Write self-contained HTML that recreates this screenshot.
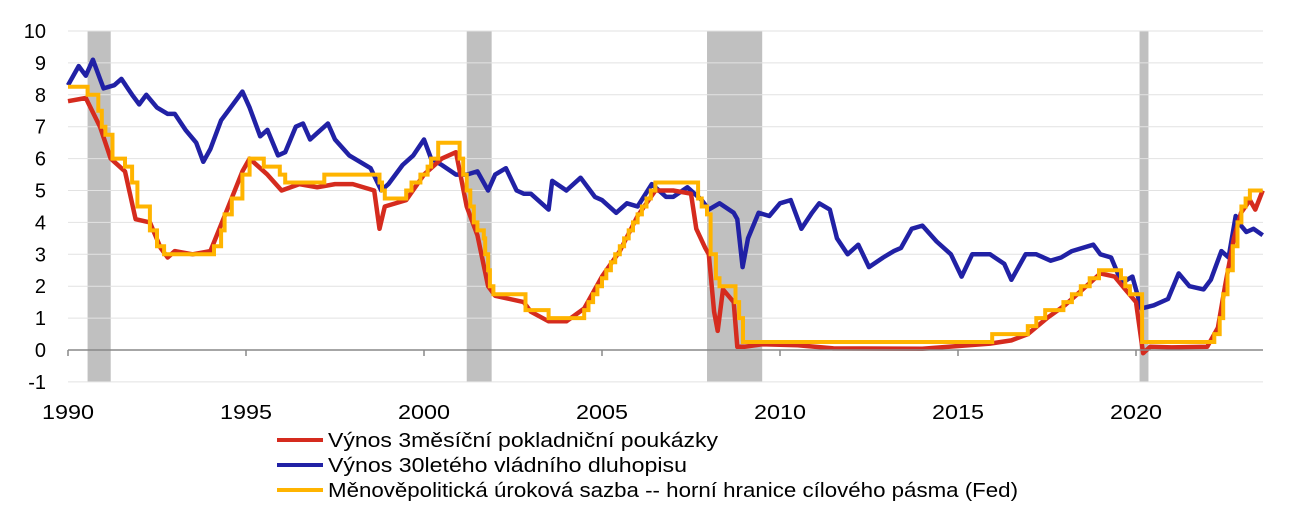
<!DOCTYPE html>
<html><head><meta charset="utf-8">
<style>
body{margin:0;background:#fff;width:1299px;height:513px;overflow:hidden;font-family:"Liberation Sans",sans-serif;}
svg text{font-family:"Liberation Sans",sans-serif;}
</style></head>
<body>
<svg id="chart" width="1299" height="513" xmlns="http://www.w3.org/2000/svg">
<g id="bands"></g>
<g id="grid"></g>
<g id="series"></g>
<g id="axes"></g>
<g id="legend">
<g><line x1="277" y1="440" x2="323" y2="440" stroke="#d52b1e" stroke-width="4"/><text x="328" y="447" font-size="20" textLength="390" lengthAdjust="spacingAndGlyphs" fill="#000">Výnos 3měsíční pokladniční poukázky</text></g>
<g><line x1="277" y1="465" x2="323" y2="465" stroke="#2121a5" stroke-width="4"/><text x="328" y="472" font-size="20" textLength="359" lengthAdjust="spacingAndGlyphs" fill="#000">Výnos 30letého vládního dluhopisu</text></g>
<g><line x1="277" y1="490" x2="323" y2="490" stroke="#ffb400" stroke-width="4"/><text x="328" y="497" font-size="20" textLength="690" lengthAdjust="spacingAndGlyphs" fill="#000">Měnověpolitická úroková sazba -- horní hranice cílového pásma (Fed)</text></g>
</g>
</svg>
<script>
const yTicks=[10,9,8,7,6,5,4,3,2,1,0,-1];
const xTicks=[1990,1995,2000,2005,2010,2015,2020];
const recessions=[[1990.55,1991.2],[2001.2,2001.9],[2007.95,2009.5],[2020.1,2020.35]];
const fedT=[1990.0,1990.55,1990.85,1990.95,1991.05,1991.25,1991.6,1991.8,1991.95,1992.3,1992.5,1992.7,1994.1,1994.3,1994.4,1994.6,1994.9,1995.1,1995.5,1995.95,1996.1,1997.2,1998.75,1998.82,1998.9,1999.5,1999.65,1999.9,2000.1,2000.2,2000.4,2001.0,2001.1,2001.2,2001.3,2001.4,2001.5,2001.68,2001.72,2001.8,2001.85,2001.95,2002.85,2003.5,2004.5,2004.62,2004.75,2004.87,2005.0,2005.12,2005.25,2005.37,2005.5,2005.62,2005.75,2005.87,2006.0,2006.12,2006.25,2006.37,2006.5,2007.7,2007.8,2007.95,2008.05,2008.2,2008.3,2008.75,2008.85,2008.96,2015.96,2016.96,2017.2,2017.45,2017.96,2018.2,2018.45,2018.7,2018.96,2019.58,2019.7,2019.83,2020.17,2022.2,2022.35,2022.45,2022.57,2022.72,2022.85,2022.96,2023.08,2023.2,2023.56];
const fedV=[8.25,8.0,7.5,7.0,6.75,6.0,5.75,5.25,4.5,3.75,3.25,3.0,3.25,3.75,4.25,4.75,5.5,6.0,5.75,5.5,5.25,5.5,5.25,5.0,4.75,5.0,5.25,5.5,5.75,6.0,6.5,6.0,5.5,5.0,4.5,4.0,3.75,3.5,3.0,2.5,2.0,1.75,1.25,1.0,1.25,1.5,1.75,2.0,2.25,2.5,2.75,3.0,3.25,3.5,3.75,4.0,4.25,4.5,4.75,5.0,5.25,4.75,4.5,4.25,3.0,2.25,2.0,1.5,1.0,0.25,0.5,0.75,1.0,1.25,1.5,1.75,2.0,2.25,2.5,2.25,2.0,1.75,0.25,0.5,1.0,1.75,2.5,3.25,4.0,4.5,4.75,5.0,5.0];
const billT=[1990.0,1990.5,1990.9,1991.2,1991.6,1991.9,1992.3,1992.6,1992.8,1993.0,1993.5,1994.0,1994.4,1994.9,1995.1,1995.6,1996.0,1996.5,1997.0,1997.5,1998.0,1998.6,1998.75,1998.9,1999.5,2000.0,2000.5,2000.9,2001.2,2001.5,2001.8,2002.0,2002.8,2003.0,2003.5,2004.0,2004.5,2005.0,2005.5,2006.0,2006.5,2007.0,2007.5,2007.65,2007.9,2008.0,2008.15,2008.25,2008.4,2008.7,2008.8,2009.0,2009.5,2010.5,2011.5,2014.0,2015.9,2016.5,2016.96,2017.5,2018.0,2018.5,2019.0,2019.4,2019.7,2020.0,2020.2,2020.4,2021.0,2022.0,2022.3,2022.5,2022.75,2022.95,2023.2,2023.35,2023.56];
const billV=[7.8,7.9,7.0,6.0,5.6,4.1,4.0,3.2,2.9,3.1,3.0,3.1,4.2,5.6,6.0,5.5,5.0,5.2,5.1,5.2,5.2,5.0,3.8,4.5,4.7,5.5,6.0,6.2,4.5,3.6,2.0,1.7,1.5,1.2,0.9,0.9,1.3,2.3,3.1,4.2,5.0,5.0,4.9,3.8,3.2,3.0,1.2,0.6,1.9,1.5,0.1,0.1,0.18,0.15,0.05,0.04,0.2,0.3,0.5,1.0,1.4,1.9,2.4,2.3,1.9,1.5,-0.1,0.1,0.08,0.1,0.7,2.0,3.5,4.3,4.7,4.4,5.0];
const bondT=[1990.0,1990.3,1990.5,1990.7,1990.9,1991.0,1991.3,1991.5,1991.8,1992.0,1992.2,1992.5,1992.8,1993.0,1993.3,1993.6,1993.8,1994.0,1994.3,1994.5,1994.9,1995.1,1995.4,1995.6,1995.9,1996.1,1996.4,1996.6,1996.8,1997.0,1997.3,1997.5,1997.9,1998.2,1998.5,1998.8,1999.0,1999.4,1999.7,2000.0,2000.2,2000.5,2000.9,2001.2,2001.5,2001.8,2002.0,2002.3,2002.6,2002.8,2003.0,2003.5,2003.6,2004.0,2004.4,2004.8,2005.0,2005.4,2005.7,2006.0,2006.4,2006.8,2007.0,2007.4,2007.8,2008.0,2008.3,2008.7,2008.8,2008.95,2009.1,2009.4,2009.7,2010.0,2010.3,2010.6,2010.9,2011.1,2011.4,2011.6,2011.9,2012.2,2012.5,2012.9,2013.2,2013.4,2013.7,2014.0,2014.4,2014.8,2015.1,2015.4,2015.9,2016.3,2016.5,2016.9,2017.2,2017.6,2017.9,2018.2,2018.8,2019.0,2019.3,2019.6,2019.9,2020.15,2020.5,2020.9,2021.2,2021.5,2021.9,2022.1,2022.4,2022.6,2022.8,2022.95,2023.1,2023.3,2023.56];
const bondV=[8.3,8.9,8.6,9.1,8.5,8.2,8.3,8.5,8.0,7.7,8.0,7.6,7.4,7.4,6.9,6.5,5.9,6.3,7.2,7.5,8.1,7.6,6.7,6.9,6.1,6.2,7.0,7.1,6.6,6.8,7.1,6.6,6.1,5.9,5.7,5.0,5.2,5.8,6.1,6.6,6.0,5.8,5.5,5.5,5.6,5.0,5.5,5.7,5.0,4.9,4.9,4.4,5.3,5.0,5.4,4.8,4.7,4.3,4.6,4.5,5.2,4.8,4.8,5.1,4.7,4.4,4.6,4.3,4.1,2.6,3.5,4.3,4.2,4.6,4.7,3.8,4.3,4.6,4.4,3.5,3.0,3.3,2.6,2.9,3.1,3.2,3.8,3.9,3.4,3.0,2.3,3.0,3.0,2.7,2.2,3.0,3.0,2.8,2.9,3.1,3.3,3.0,2.9,2.1,2.3,1.3,1.4,1.6,2.4,2.0,1.9,2.2,3.1,2.9,4.2,3.9,3.7,3.8,3.6];

const NS='http://www.w3.org/2000/svg';
const X0=68,YR0=1990,PXY=35.6,Y0=350,PXU=31.9,XR=1263;
function xs(t){return X0+(t-YR0)*PXY;}
function ys(v){return Y0-v*PXU;}
function mk(tag,attrs,parent){const e=document.createElementNS(NS,tag);for(const k in attrs)e.setAttribute(k,attrs[k]);parent.appendChild(e);return e;}
const bands=document.getElementById('bands'),grid=document.getElementById('grid'),series=document.getElementById('series'),axes=document.getElementById('axes');
recessions.forEach(r=>{
  const e=mk('rect',{x:xs(r[0]),y:ys(10),width:xs(r[1])-xs(r[0]),height:ys(-1)-ys(10),fill:'#c0c0c0'},bands);
  
  
});
yTicks.forEach(v=>{
  if(v!==0){const g=mk('line',{x1:X0,x2:XR,y1:ys(v),y2:ys(v),stroke:'#e2e2e2','stroke-width':1},grid);
  
  }
  const t=mk('text',{x:46,y:ys(v)+7,'font-size':20,'text-anchor':'end',fill:'#000'},axes);
  t.textContent=v;
  
  
});
const zl=mk('line',{x1:X0,x2:XR,y1:Y0,y2:Y0,stroke:'#888','stroke-width':1.5},axes);


xTicks.forEach(yr=>{
  const tk=mk('line',{x1:xs(yr),x2:xs(yr),y1:Y0,y2:Y0+6,stroke:'#888','stroke-width':1.5},axes);
  
  
  const t=mk('text',{x:xs(yr)-26,y:419,'font-size':20,textLength:52,lengthAdjust:'spacingAndGlyphs',fill:'#000'},axes);
  t.textContent=yr;
  
  
});
function linePath(T,V){return T.map((t,i)=>(i?'L':'M')+xs(t).toFixed(1)+','+ys(V[i]).toFixed(1)).join('');}
function stepPath(T,V){let d='M'+xs(T[0]).toFixed(1)+','+ys(V[0]).toFixed(1);for(let i=1;i<T.length;i++){d+='H'+xs(T[i]).toFixed(1)+'V'+ys(V[i]).toFixed(1);}return d;}
const pb=mk('path',{d:linePath(bondT,bondV),fill:'none',stroke:'#2121a5','stroke-width':4.5,'stroke-linejoin':'round'},series);


const pr=mk('path',{d:linePath(billT,billV),fill:'none',stroke:'#d52b1e','stroke-width':4.5,'stroke-linejoin':'round'},series);


const pf=mk('path',{d:stepPath(fedT,fedV),fill:'none',stroke:'#ffb400','stroke-width':4},series);


</script>
</body></html>
